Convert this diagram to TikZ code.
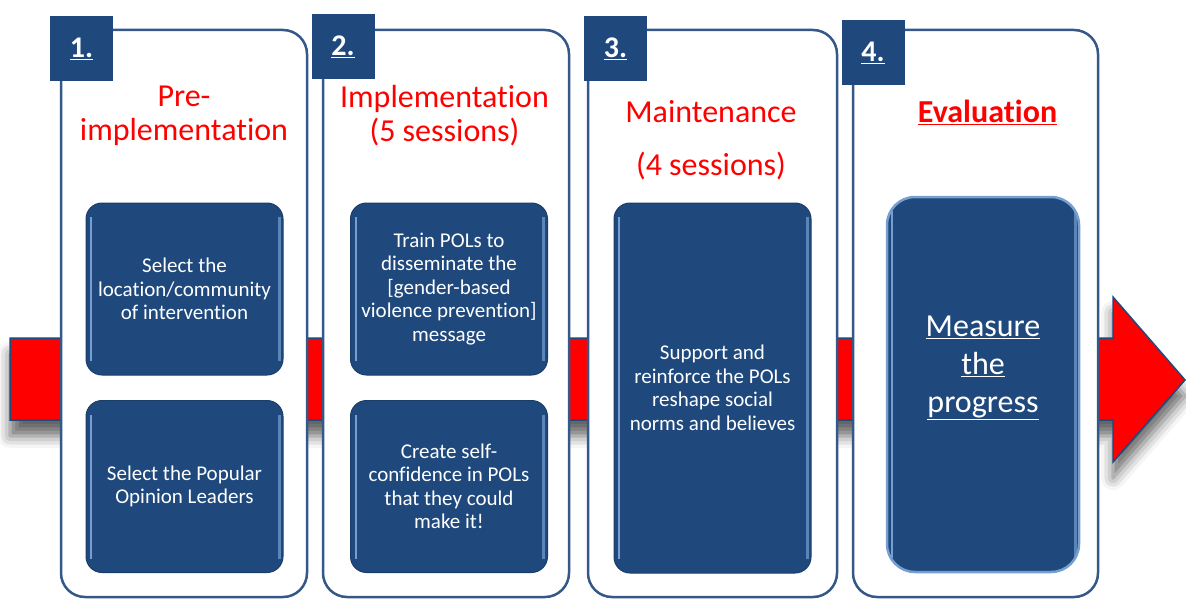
\documentclass[tikz,border=0pt]{standalone}
\usepackage{fontspec}
\setmainfont[Ligatures={NoCommon}]{Carlito}
\usetikzlibrary{shadows.blur}
\definecolor{navy}{RGB}{31,73,125}
\definecolor{rim}{RGB}{52,88,136}
\definecolor{glint}{RGB}{118,158,208}

\begin{document}
\begin{tikzpicture}[x=1pt,y=-1pt,
  arrowbody/.style={fill=red, draw=navy, line width=1.5pt, line join=miter,
    blur shadow={shadow xshift=0pt, shadow yshift=-16pt, shadow blur radius=12pt, shadow opacity=60}},
  panel/.style={draw=rim, line width=2.5pt, fill=white, rounded corners=24pt,
    minimum width=246pt, minimum height=567pt},
  tab/.style={fill=navy, minimum width=63pt, minimum height=65pt, text=white,
    font=\fontsize{30}{30}\selectfont\bfseries},
  title/.style={text=red, align=center, font=\fontsize{32}{34}\selectfont},
  bevel/.style={path picture={
    \draw[glint, line width=2pt] ([xshift=5pt,yshift=-14pt]path picture bounding box.north west)
      -- ([xshift=5pt,yshift=14pt]path picture bounding box.south west);
    \draw[glint!70!navy, line width=3pt] ([xshift=-4pt,yshift=-14pt]path picture bounding box.north east)
      -- ([xshift=-4pt,yshift=14pt]path picture bounding box.south east);}},
  task/.style={fill=navy, draw=navy!85!black, line width=1pt, rounded corners=16pt, bevel,
    text=white, align=center, font=\fontsize{21}{23.5}\selectfont,
    minimum width=197pt, minimum height=172pt, inner sep=0pt},
]
\useasboundingbox (0,0) rectangle (1186,599);

% red arrow behind the panels
\draw[arrowbody] (10,338) -- (1113,338) -- (1113,297) -- (1185,380)
  -- (1113,462) -- (1113,420) -- (10,420) -- cycle;

% panels
\node[panel] (p1) at (184,313.5) {};
\node[panel] (p2) at (446,313.5) {};
\node[panel, minimum width=249pt] (p3) at (712.5,313.5) {};
\node[panel, minimum width=245pt] (p4) at (975.5,313.5) {};

% number tabs
\node[tab] (n1) at (81.5,49) {\underline{1.}};
\node[tab] (n2) at (343,46.5) {\underline{2.}};
\node[tab] (n3) at (615.5,49) {\underline{3.}};
\node[tab] (n4) at (873,52.5) {\underline{4.}};

% titles
\node[title] (t1) at (184,116) {Pre-\\implementation};
\node[title] (t2) at (444.5,115.5) {Implementation\\(5 sessions)};
\node[title, font=\fontsize{32}{53}\selectfont] (t3) at (711,140) {Maintenance\\(4 sessions)};
\node[title, font=\fontsize{32}{34}\selectfont\bfseries] (t4) at (987.5,112) {\underline{Evaluation}};

% tasks
\node[task] (select) at (184.5,289) {Select the\\location/community\\of intervention};
\node[task] (leaders) at (184.5,486.5) {Select the Popular\\Opinion Leaders};
\node[task] (train) at (449,289) {Train POLs to\\disseminate the\\{[gender-based}\\violence prevention]\\message};
\node[task] (confidence) at (449,486.5) {Create self-\\confidence in POLs\\that they could\\make it!};
\node[task, minimum height=370pt] (support) at (712.5,388) {Support and\\reinforce the POLs\\reshape social\\norms and believes};
\node[task, draw=glint, line width=2.5pt, rounded corners=28pt, minimum width=192pt, minimum height=375pt] (evalbox) at (983,384.5) {};
\node[text=white, align=center, font=\fontsize{32}{38}\selectfont] (measure) at (983,368)
  {\underline{Measure}\\\underline{the}\\\underline{progress}};

\end{tikzpicture}
\end{document}
